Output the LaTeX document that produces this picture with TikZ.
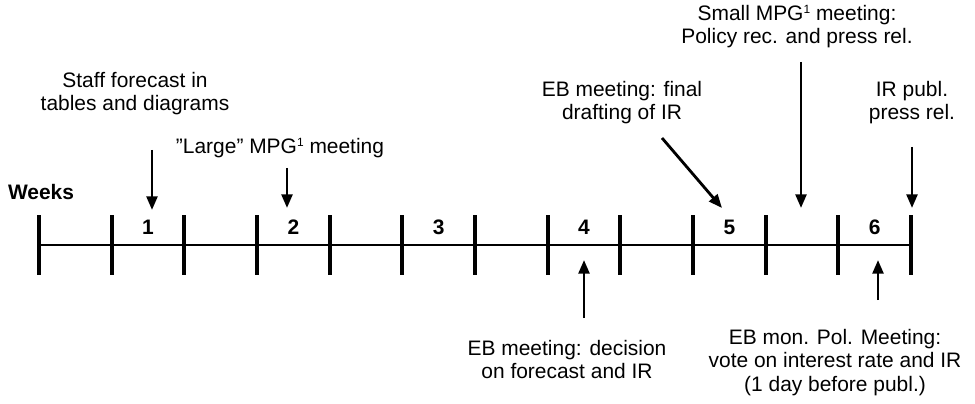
\documentclass[tikz,border=0pt]{standalone}
\usepackage{fontspec}
\setmainfont{Liberation Sans}
\usetikzlibrary{arrows.meta}
\newcommand{\fnone}{\raisebox{4.8pt}{\fontsize{8.5}{8.5}\selectfont 1}}
\begin{document}
\begin{tikzpicture}[
		txt/.style={align=center,font=\fontsize{14.9}{16.8}\selectfont},
		wk/.style={font=\fontsize{14.9}{16.8}\selectfont\bfseries},
		pointer/.style={line width=2pt,-{Triangle[length=3.4mm,width=2.7mm]}}]
		\useasboundingbox (0,0) rectangle (24.375,10.075);
		
		% time axis
		\draw[line width=2.1pt] (0.975,3.95) -- (22.775,3.95);
		\draw[line width=2.8pt] (0.975,3.2) -- (0.975,4.7);
		\draw[line width=2.8pt] (2.792,3.2) -- (2.792,4.7);
		\draw[line width=2.8pt] (4.608,3.2) -- (4.608,4.7);
		\draw[line width=2.8pt] (6.425,3.2) -- (6.425,4.7);
		\draw[line width=2.8pt] (8.242,3.2) -- (8.242,4.7);
		\draw[line width=2.8pt] (10.058,3.2) -- (10.058,4.7);
		\draw[line width=2.8pt] (11.875,3.2) -- (11.875,4.7);
		\draw[line width=2.8pt] (13.692,3.2) -- (13.692,4.7);
		\draw[line width=2.8pt] (15.508,3.2) -- (15.508,4.7);
		\draw[line width=2.8pt] (17.325,3.2) -- (17.325,4.7);
		\draw[line width=2.8pt] (19.142,3.2) -- (19.142,4.7);
		\draw[line width=2.8pt] (20.958,3.2) -- (20.958,4.7);
		\draw[line width=2.8pt] (22.775,3.2) -- (22.775,4.7);
		
		\node[wk] (weeks) at (1.025,5.275) {Weeks};
		\node[wk] (w1) at (3.7,4.4) {1};
		\node[wk] (w2) at (7.333,4.4) {2};
		\node[wk] (w3) at (10.967,4.4) {3};
		\node[wk] (w4) at (14.6,4.4) {4};
		\node[wk] (w5) at (18.233,4.4) {5};
		\node[wk] (w6) at (21.867,4.4) {6};
		
		% events above the axis
		\node[txt] (staff) at (3.375,7.74) {Staff forecast in\\tables and diagrams};
		\node[txt] (large) at (7.0,6.375) {”Large” MPG\fnone{} meeting};
		\node[txt] (final) at (15.55,7.51) {EB meeting: final\\drafting of IR};
		\node[txt] (small) at (19.925,9.41) {Small MPG\fnone{} meeting:\\Policy rec. and press rel.};
		\node[txt] (publ) at (22.8,7.51) {IR publ.\\press rel.};
		
		% events below the axis
		\node[txt] (decision) at (14.175,1.0875) {EB meeting: decision\\on forecast and IR};
		\node[txt] (vote) at (20.875,1.0125) {EB mon. Pol. Meeting:\\vote on interest rate and IR\\(1 day before publ.)};
		
		\coordinate (staff-a) at (3.8,6.325);
		\coordinate (staff-b) at (3.8,4.825);
		\coordinate (large-a) at (7.175,5.875);
		\coordinate (large-b) at (7.175,4.875);
		\coordinate (final-a) at (16.55,6.625);
		\coordinate (final-b) at (18.05,4.875);
		\coordinate (small-a) at (20.025,8.525);
		\coordinate (small-b) at (20.025,4.875);
		\coordinate (publ-a) at (22.8,6.4);
		\coordinate (publ-b) at (22.8,4.875);
		\coordinate (decision-a) at (14.6,2.125);
		\coordinate (decision-b) at (14.6,3.575);
		\coordinate (vote-a) at (21.95,2.575);
		\coordinate (vote-b) at (21.95,3.575);
		
		\draw[pointer] (staff-a) -- (staff-b);
		\draw[pointer] (large-a) -- (large-b);
		\draw[pointer] (final-a) -- (final-b);
		\draw[pointer] (small-a) -- (small-b);
		\draw[pointer] (publ-a) -- (publ-b);
		\draw[pointer] (decision-a) -- (decision-b);
		\draw[pointer] (vote-a) -- (vote-b);
	\end{tikzpicture}
\end{document}
